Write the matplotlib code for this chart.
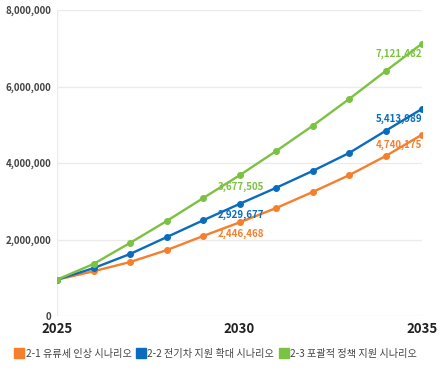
import matplotlib
matplotlib.use("Agg")
import matplotlib.pyplot as plt
from matplotlib.lines import Line2D
from matplotlib.ticker import FuncFormatter

plt.rcParams['font.family'] = ['Noto Sans CJK KR', 'DejaVu Sans']

years = [2025, 2026, 2027, 2028, 2029, 2030, 2031, 2032, 2033, 2034, 2035]
s1_name = "2-1 유류세 인상 시나리오"
s2_name = "2-2 전기차 지원 확대 시나리오"
s3_name = "2-3 포괄적 정책 지원 시나리오"
s1 = [950000, 1170000, 1410000, 1720000, 2090000, 2446468, 2820000, 3240000, 3680000, 4180000, 4740175]
s2 = [950000, 1250000, 1620000, 2060000, 2500000, 2929677, 3350000, 3790000, 4260000, 4840000, 5413989]
s3 = [950000, 1360000, 1910000, 2480000, 3080000, 3677505, 4310000, 4970000, 5670000, 6400000, 7121482]
colors = ["#f57f2c", "#0a6cbd", "#7cc242"]
label_years = [2030, 2035]
yticks = [0, 2000000, 4000000, 6000000, 8000000]
xticks = [2025, 2030, 2035]

fig = plt.figure(figsize=(4.45, 3.69), dpi=100)
ax = fig.add_axes([57/445, 1 - 316/369, (422-57)/445, (316-10)/369])

series = [s1, s2, s3]
for vals, c in zip(series, colors):
    ax.plot(years, vals, color=c, lw=1.7, marker='o', ms=4, zorder=3,
            solid_capstyle='round')

for vals, c in zip(series, colors):
    for yr in label_years:
        i = years.index(yr)
        if yr == years[-1]:
            ax.annotate(f"{vals[i]:,}", (yr, vals[i]), xytext=(0, -7.5),
                        textcoords='offset points', ha='right', va='center',
                        color=c, fontsize=7, fontweight='bold', zorder=4)
        else:
            ax.annotate(f"{vals[i]:,}", (yr, vals[i]), xytext=(1, -8),
                        textcoords='offset points', ha='center', va='center',
                        color=c, fontsize=7, fontweight='bold', zorder=4)

ax.set_xlim(2025, 2035)
ax.set_ylim(0, 8000000)
ax.set_yticks(yticks)
ax.set_xticks(xticks)
ax.yaxis.set_major_formatter(FuncFormatter(lambda v, p: f"{int(v):,}"))
ax.grid(axis='y', color='#ebebeb', lw=1)
ax.axvline(2025, color='#ebebeb', lw=1, zorder=0)
for s in ax.spines.values():
    s.set_visible(False)
ax.tick_params(axis='both', length=0)
ax.tick_params(axis='y', pad=4, labelsize=7, labelcolor='#444444')
ax.tick_params(axis='x', pad=4, labelsize=9.5, labelcolor='#222222')
for t in ax.get_yticklabels():
    t.set_fontweight('bold')
for t in ax.get_xticklabels():
    t.set_fontweight('bold')
ax.set_axisbelow(True)

handles = [Line2D([0], [0], marker='s', color='none', markerfacecolor=c,
                  markeredgecolor=c, markersize=6.5) for c in colors]
fig.legend(handles, [s1_name, s2_name, s3_name], loc='center',
           bbox_to_anchor=(0.486, 1 - 354/369), ncol=3, frameon=False,
           fontsize=7.3, handlelength=0.7, handletextpad=0.25,
           columnspacing=0.6, labelcolor='#444444')

fig.savefig("out.png", dpi=100)
